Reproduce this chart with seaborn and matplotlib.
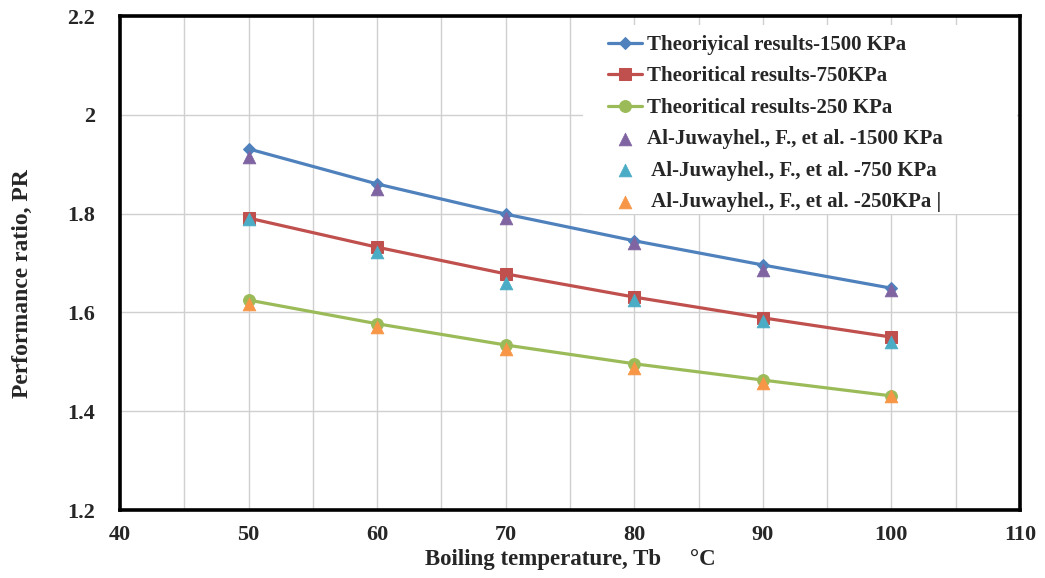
import numpy as np
import pandas as pd
import matplotlib
matplotlib.use("Agg")
import matplotlib.pyplot as plt
from matplotlib.ticker import MultipleLocator
from matplotlib.patches import Rectangle
import seaborn as sns

# ---- data ----
temps = [50, 60, 70, 80, 90, 100]
theo_1500 = [1.931, 1.860, 1.799, 1.745, 1.696, 1.649]
theo_750 = [1.791, 1.732, 1.678, 1.631, 1.589, 1.550]
theo_250 = [1.625, 1.577, 1.534, 1.496, 1.463, 1.431]
ref_1500 = [1.915, 1.850, 1.791, 1.740, 1.686, 1.645]
ref_750 = [1.790, 1.722, 1.660, 1.625, 1.583, 1.540]
ref_250 = [1.617, 1.570, 1.526, 1.487, 1.457, 1.430]

theo_labels = ["Theoriyical results-1500 KPa",
               "Theoritical results-750KPa",
               "Theoritical results-250 KPa"]
ref_labels = ["Al-Juwayhel., F., et al. -1500 KPa",
              " Al-Juwayhel., F., et al. -750 KPa",
              " Al-Juwayhel., F., et al. -250KPa |"]

x_ticks = [40, 50, 60, 70, 80, 90, 100, 110]
y_ticks = [1.2, 1.4, 1.6, 1.8, 2.0, 2.2]
y_tick_labels = ["1.2", "1.4", "1.6", "1.8", "2", "2.2"]

sns.set_style("white")
plt.rcParams['font.family'] = ['Liberation Serif', 'DejaVu Serif']
plt.rcParams['font.weight'] = 'bold'

theo_colors = ["#4F81BD", "#C0504D", "#9BBB59"]
theo_markers = ["D", "s", "o"]
theo_msizes = [6.5, 8.5, 8.5]
ref_colors = ["#8064A2", "#4BACC6", "#F79646"]

W, H = 1045, 578
fig = plt.figure(figsize=(W / 100, H / 100), dpi=100)
ax = fig.add_axes([120 / W, 1 - 510 / H, 900 / W, 494 / H])

theo_series = [theo_1500, theo_750, theo_250]
ref_series = [ref_1500, ref_750, ref_250]

for vals, lab, c, m, ms in zip(theo_series, theo_labels, theo_colors, theo_markers, theo_msizes):
    df = pd.DataFrame({"T": temps, "PR": vals})
    sns.lineplot(data=df, x="T", y="PR", ax=ax, color=c, marker=m, markersize=ms,
                 markeredgecolor=c, linewidth=2.3, label=lab, zorder=3)

for vals, lab, c in zip(ref_series, ref_labels, ref_colors):
    df = pd.DataFrame({"T": temps, "PR": vals})
    sns.scatterplot(data=df, x="T", y="PR", ax=ax, color=c, marker="^", s=85,
                    edgecolor=c, linewidth=0.5, label=lab, zorder=4)

ax.set_xlim(40, 110)
ax.set_ylim(1.2, 2.2)
ax.xaxis.set_minor_locator(MultipleLocator(5))
ax.yaxis.set_minor_locator(MultipleLocator(0.05))
ax.set_yticks(y_ticks)
ax.set_yticklabels(y_tick_labels)
ax.set_xticks(x_ticks)
ax.set_xticklabels([str(v) for v in x_ticks])

ax.grid(True, which="major", axis="y", color="#d0d0d0", linewidth=1.0)
ax.grid(True, which="both", axis="x", color="#d0d0d0", linewidth=1.0)

ax.tick_params(axis="both", which="both", direction="in", color="black")
ax.tick_params(axis="y", which="both", length=6, width=2, pad=18, labelsize=16)
ax.tick_params(axis="x", which="major", length=5, width=3, pad=11, labelsize=16)
ax.tick_params(axis="x", which="minor", length=4, width=2.5)
for lab in ax.get_xticklabels() + ax.get_yticklabels():
    lab.set_fontweight("bold")

for sp in ax.spines.values():
    sp.set_visible(True)
    sp.set_color("black")
    sp.set_linewidth(2.6)

ax.set_xlabel("Boiling temperature, Tb     \u00b0C", fontsize=16.5, fontweight="bold")
ax.xaxis.label.set_va("center")
ax.xaxis.set_label_coords((570 - 120) / 900, (510 - 559) / 494)
ax.set_ylabel("Performance ratio, PR", fontsize=17, fontweight="bold")
ax.yaxis.label.set_va("center")
ax.yaxis.set_label_coords((22 - 120) / 900, (510 - 284) / 494)

# white legend area covering the grid
ax.add_patch(Rectangle((583 / W, 1 - 214 / H), (1017 - 583) / W, (214 - 25) / H,
                       transform=fig.transFigure, facecolor="white",
                       edgecolor="none", zorder=1))

leg = ax.legend(loc="upper left", bbox_to_anchor=(608 / W, 1 - 35 / H),
                bbox_transform=fig.transFigure, frameon=False,
                prop={"family": "Liberation Serif", "weight": "bold", "size": 15},
                handlelength=1.65, handletextpad=0.2, labelspacing=0.55,
                borderpad=0, borderaxespad=0)
leg.set_zorder(5)

fig.savefig("out.png", dpi=100)
